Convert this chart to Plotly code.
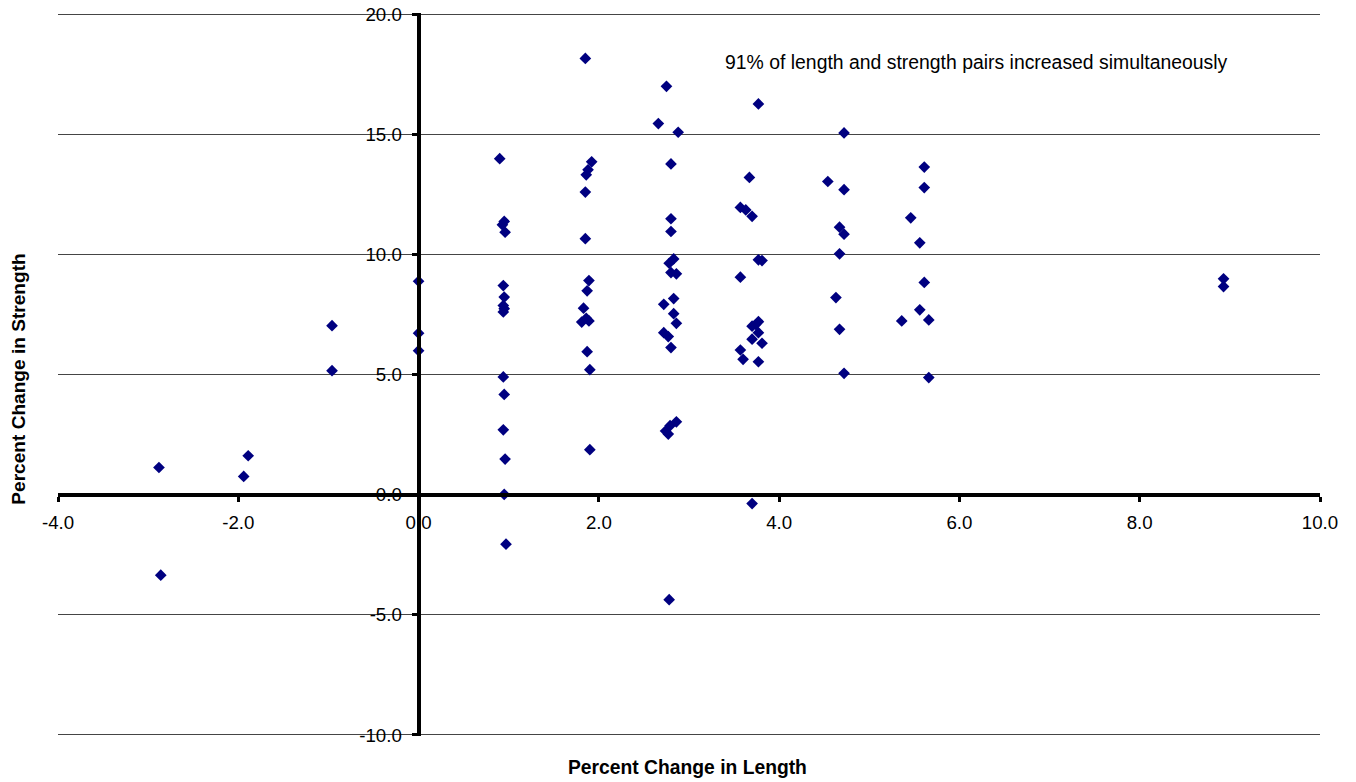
import plotly.graph_objects as go

# Percent change in length (x) and strength (y) pairs
length_change = [
    -2.88, -2.86, -1.94, -1.89, -0.96, -0.96, 0.0, 0.0, 0.0,
    0.90, 0.95, 0.93, 0.96, 0.94, 0.95, 0.94, 0.95, 0.94, 0.94, 0.95, 0.94, 0.96, 0.95, 0.97,
    1.85, 1.92, 1.88, 1.86, 1.85, 1.85, 1.89, 1.87, 1.83, 1.81, 1.89, 1.86, 1.87, 1.90, 1.90,
    2.75, 2.66, 2.88, 2.80, 2.80, 2.80, 2.83, 2.78, 2.80, 2.86, 2.83, 2.72, 2.83, 2.86, 2.72,
    2.77, 2.80, 2.86, 2.79, 2.74, 2.77, 2.78,
    3.77, 3.67, 3.57, 3.63, 3.70, 3.77, 3.81, 3.57, 3.77, 3.70, 3.74, 3.77, 3.70, 3.81, 3.57,
    3.60, 3.77, 3.70,
    4.72, 4.54, 4.72, 4.67, 4.72, 4.67, 4.63, 4.67, 4.72,
    5.61, 5.61, 5.46, 5.56, 5.61, 5.56, 5.36, 5.66, 5.66,
    8.93, 8.93,
]
strength_change = [
    1.13, -3.35, 0.76, 1.62, 7.03, 5.16, 8.88, 6.72, 5.99,
    13.98, 11.37, 11.23, 10.92, 8.70, 8.22, 7.87, 7.74, 7.60, 4.90, 4.17, 2.70, 1.48, 0.01, -2.06,
    18.15, 13.85, 13.52, 13.31, 12.59, 10.65, 8.91, 8.48, 7.76, 7.18, 7.23, 7.34, 5.95, 5.20, 1.87,
    16.99, 15.44, 15.08, 13.76, 11.48, 10.95, 9.81, 9.63, 9.24, 9.19, 8.16, 7.92, 7.53, 7.13, 6.74,
    6.58, 6.12, 3.03, 2.87, 2.65, 2.52, -4.37,
    16.26, 13.20, 11.95, 11.85, 11.58, 9.77, 9.74, 9.05, 7.20, 7.01, 7.08, 6.74, 6.47, 6.30, 6.02,
    5.63, 5.53, -0.37,
    15.05, 13.03, 12.69, 11.13, 10.84, 10.02, 8.20, 6.88, 5.05,
    13.63, 12.78, 11.52, 10.48, 8.83, 7.69, 7.23, 7.27, 4.87,
    8.98, 8.66,
]

x_ticks = [-4, -2, 0, 2, 4, 6, 8, 10]
x_tick_labels = ["-4.0", "-2.0", "0.0", "2.0", "4.0", "6.0", "8.0", "10.0"]
y_ticks = [-10, -5, 0, 5, 10, 15, 20]
y_tick_labels = ["-10.0", "-5.0", "0.0", "5.0", "10.0", "15.0", "20.0"]

# ranges padded very slightly so the end gridlines stay inside the plot area
x_range = [-4.0, 10.0]
y_range = [-10.042, 20.042]

note_text = "91% of length and strength pairs increased simultaneously"
x_title = "Percent Change in Length"
y_title = "Percent Change in Strength"

FONT = "Liberation Sans, Arial, sans-serif"

fig = go.Figure()
fig.add_trace(go.Scatter(
    x=length_change, y=strength_change, mode="markers",
    marker=dict(symbol="diamond", size=9, color="#000080", line=dict(width=0)),
    showlegend=False, hoverinfo="x+y",
))

fig.update_layout(
    width=1356, height=782,
    margin=dict(l=58, r=36, t=13, b=46),
    paper_bgcolor="white", plot_bgcolor="white",
    font=dict(family=FONT, size=18.7, color="black"),
    showlegend=False,
    xaxis=dict(
        range=x_range, tickvals=x_ticks, ticktext=x_tick_labels,
        anchor="free", position=(0 - y_range[0]) / (y_range[1] - y_range[0]),
        showline=True, linecolor="black", linewidth=4,
        ticks="outside", ticklen=5, tickwidth=3, tickcolor="black",
        ticklabelstandoff=5, automargin=False,
        showgrid=False, zeroline=False,
        tickfont=dict(family=FONT, size=18.7, color="black"),
    ),
    yaxis=dict(
        range=y_range, tickvals=y_ticks, ticktext=y_tick_labels,
        anchor="free", position=(0 - x_range[0]) / (x_range[1] - x_range[0]),
        showline=True, linecolor="black", linewidth=4,
        ticks="outside", ticklen=5, tickwidth=3, tickcolor="black",
        ticklabelstandoff=6, automargin=False,
        showgrid=True, gridcolor="#454545", gridwidth=1,
        zeroline=False,
        tickfont=dict(family=FONT, size=18.7, color="black"),
    ),
    annotations=[
        dict(x=3.38, y=18.02, xref="x", yref="y", text=note_text, showarrow=False,
             xanchor="left", yanchor="middle",
             font=dict(family=FONT, size=19.4, color="black")),
        dict(x=0.4992, y=-0.043, xref="paper", yref="paper", text="<b>" + x_title + "</b>",
             showarrow=False, xanchor="center", yanchor="middle",
             font=dict(family=FONT, size=19.3, color="black")),
        dict(x=-0.031, y=0.494, xref="paper", yref="paper", text="<b>" + y_title + "</b>",
             showarrow=False, xanchor="center", yanchor="middle", textangle=-90,
             font=dict(family=FONT, size=19.1, color="black")),
    ],
)

fig.write_html("out.html")
